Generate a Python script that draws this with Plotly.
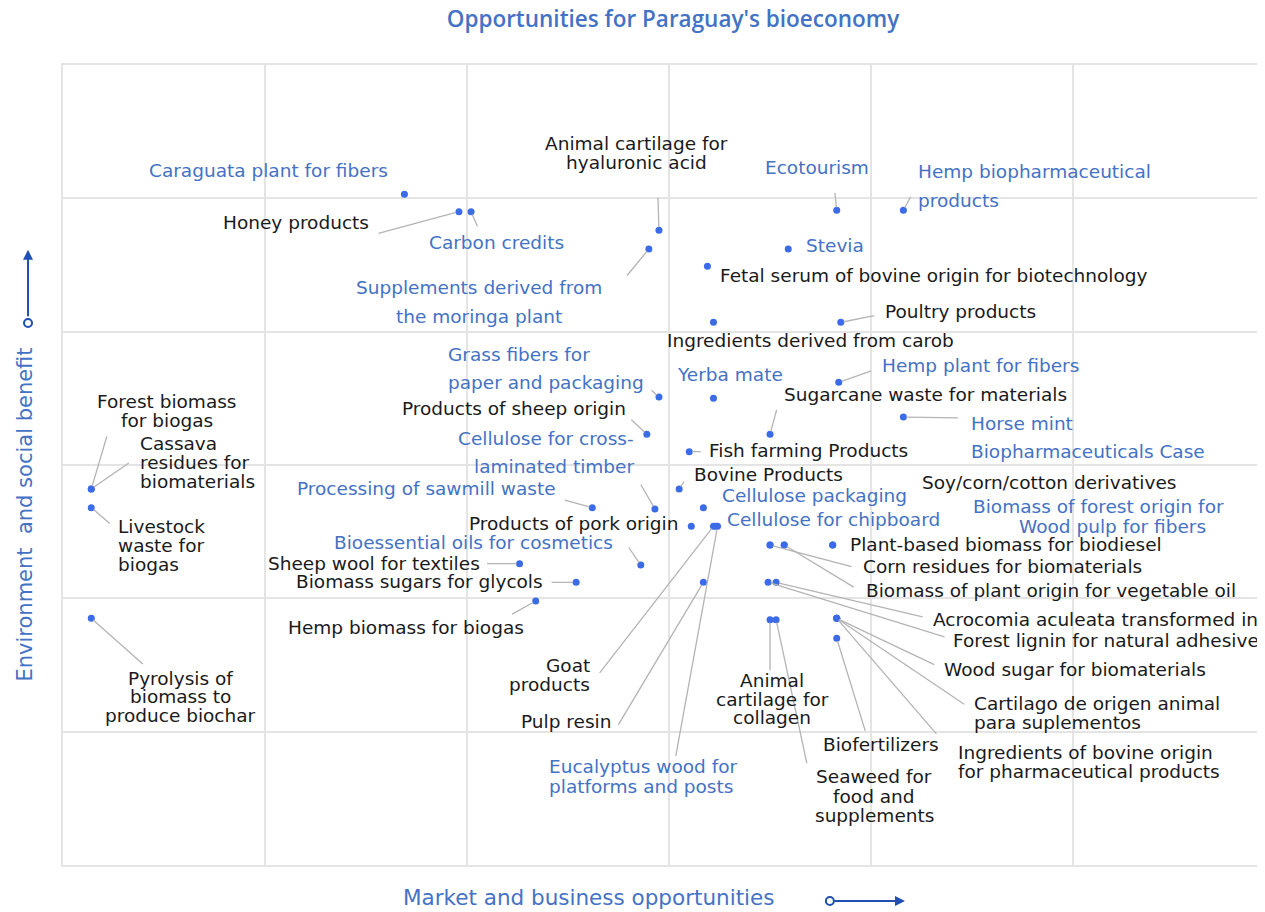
import plotly.graph_objects as go

# opportunity labels, market score (x) and environment/social score (y)
labels = [
    "Caraguata plant for fibers", "Honey products", "Carbon credits",
    "Supplements derived from<br>the moringa plant", "Animal cartilage for<br>hyaluronic acid",
    "Ecotourism", "Hemp biopharmaceutical<br>products", "Stevia",
    "Fetal serum of bovine origin for biotechnology", "Poultry products",
    "Ingredients derived from carob", "Hemp plant for fibers", "Yerba mate",
    "Sugarcane waste for materials", "Horse mint<br>Biopharmaceuticals Case",
    "Grass fibers for<br>paper and packaging", "Products of sheep origin",
    "Cellulose for cross-<br>laminated timber", "Fish farming Products", "Bovine Products",
    "Processing of sawmill waste", "Products of pork origin", "Cellulose packaging",
    "Cellulose for chipboard", "Bioessential oils for cosmetics", "Sheep wool for textiles",
    "Biomass sugars for glycols", "Hemp biomass for biogas", "Forest biomass<br>for biogas",
    "Cassava<br>residues for<br>biomaterials", "Livestock<br>waste for<br>biogas",
    "Pyrolysis of<br>biomass to<br>produce biochar", "Plant-based biomass for biodiesel",
    "Corn residues for biomaterials", "Biomass of plant origin for vegetable oil",
    "Soy/corn/cotton derivatives", "Biomass of forest origin for", "Wood pulp for fibers",
    "Acrocomia aculeata transformed in", "Forest lignin for natural adhesives",
    "Wood sugar for biomaterials", "Cartilago de origen animal<br>para suplementos",
    "Ingredients of bovine origin<br>for pharmaceutical products", "Biofertilizers",
    "Animal<br>cartilage for<br>collagen", "Seaweed for<br>food and<br>supplements",
    "Goat<br>products", "Pulp resin", "Eucalyptus wood for<br>platforms and posts",
]
market = [
    1.69, 1.96, 2.02, 2.90, 2.95, 3.83, 4.16, 3.59, 3.19, 3.85,
    3.22, 3.84, 3.22, 3.50, 4.16, 2.95, 2.89, 2.93, 3.10, 3.05,
    2.62, 3.11, 3.17, 3.23, 2.86, 2.26, 2.54, 2.34, 0.14, 0.14,
    0.14, 0.14, 3.81, 3.50, 3.57, 3.81, 3.50, 3.57, 3.53, 3.49,
    3.83, 3.83, 3.83, 3.83, 3.50, 3.53, 3.22, 3.17, 3.24,
]
benefit = [
    5.03, 4.90, 4.90, 4.62, 4.76, 4.91, 4.91, 4.62, 4.49, 4.07,
    4.07, 3.62, 3.50, 3.23, 3.36, 3.51, 3.23, 2.67, 3.10, 2.82,
    2.68, 2.54, 2.68, 2.54, 2.25, 2.26, 2.12, 1.98, 2.82, 2.82,
    2.68, 1.85, 2.40, 2.40, 2.40, 2.40, 2.40, 2.40, 2.12, 2.12,
    1.85, 1.85, 1.85, 1.70, 1.84, 1.84, 2.54, 2.12, 2.54,
]
highlighted = {
    "Caraguata plant for fibers", "Carbon credits", "Supplements derived from<br>the moringa plant",
    "Ecotourism", "Hemp biopharmaceutical<br>products", "Stevia", "Hemp plant for fibers",
    "Yerba mate", "Horse mint<br>Biopharmaceuticals Case", "Grass fibers for<br>paper and packaging",
    "Cellulose for cross-<br>laminated timber", "Processing of sawmill waste", "Cellulose packaging",
    "Cellulose for chipboard", "Bioessential oils for cosmetics", "Biomass of forest origin for",
    "Wood pulp for fibers", "Eucalyptus wood for<br>platforms and posts",
}

# label placement in pixels from each point: text dx, dy, anchor, line gap, leader tail
placement = [
    (-14, -24, "right", 0, None), (-88, 11, "right", 0, (-82, 22)), (25, 31, "center", 0, (7, 16)),
    (-170, 38, "center", 29, (-23, 28)), (-22, -87, "center", 19, (-1, -34)),
    (-20, -43, "center", 0, (-2, -19)), (13, -39, "left", 29, (8, -15)), (16, -4, "left", 0, None),
    (11, 9, "left", 0, None), (42, -11, "left", 0, (35, -7)),
    (-48, 18, "left", 0, None), (41, -17, "left", 0, (34, -12)), (17, -24, "center", 0, None),
    (12, -40, "left", 0, (7, -26)), (66, 6, "left", 28, (56, 1)),
    (-213, -43, "left", 28, (-9, -8)), (-19, -26, "right", 0, (-17, -16)),
    (-19, -71, "right", 28, (-15, -26)), (18, -1, "left", 0, (13, 0)), (13, -15, "left", 0, (6, -9)),
    (-34, -19, "right", 0, (-29, -8)), (-11, -3, "right", 0, None), (17, -12, "left", 0, None),
    (9, -7, "left", 0, None), (-26, -23, "right", 0, (-13, -19)), (-38, 0, "right", 0, (-34, 0)),
    (-31, -1, "right", 0, (-26, 0)), (-130, 26, "center", 0, (-25, 14)), (76, -88, "center", 19, (16, -54)),
    (47, -46, "left", 19, (39, -27)), (25, 19, "left", 19, (20, 17)),
    (89, 60, "center", 18.5, (53, 47)), (15, -1, "left", 0, None),
    (91, 21, "left", 0, (83, 22)), (80, 45, "left", 0, (71, 43)),
    (87, -63, "left", 0, None), (201, -39, "left", 0, None), (233, -19, "left", 0, None),
    (155, 37, "left", 0, (148, 35)), (183, 58, "left", 0, (178, 55)),
    (105, 51, "left", 0, (99, 47)), (135, 85, "left", 19, (129, 87)),
    (119, 134, "left", 19, (101, 117)), (-16, 106, "left", 0, (29, 94)),
    (2, 61, "center", 18.5, (0, 52)), (98, 157, "center", 19.5, (31, 145)),
    (-121, 139, "right", 19, (-115, 148)), (-90, 139, "right", 0, (-86, 144)),
    (-171, 240, "left", 20, (-42, 231)),
]

BLUE = "#4472c4"
DARK = "#1a1a1a"
FONT = "DejaVu Sans"

fig = go.Figure()
fig.add_trace(go.Scatter(
    x=market, y=benefit, mode="markers",
    marker=dict(size=7, color="#3b6be6"),
    hoverinfo="text", text=labels,
))

notes = []
# leaders first so the text sits on top
for name, mx, by, (dx, dy, anchor, gap, lead) in zip(labels, market, benefit, placement):
    if lead:
        notes.append(dict(x=mx, y=by, xref="x", yref="y", text="", showarrow=True,
                          ax=lead[0], ay=lead[1], arrowhead=0, arrowwidth=1.3,
                          arrowcolor="#b4b4b4", standoff=3))
for name, mx, by, (dx, dy, anchor, gap, lead) in zip(labels, market, benefit, placement):
    color = BLUE if name in highlighted else DARK
    for i, line in enumerate(name.split("<br>")):
        notes.append(dict(x=mx, y=by, xref="x", yref="y", text=line, showarrow=False,
                          xanchor=anchor, yanchor="middle",
                          xshift=dx, yshift=-(dy + i * gap),
                          font=dict(family=FONT, size=18.5, color=color)))

# axis titles and direction arrows
notes.append(dict(x=0.438, y=-0.041, xref="paper", yref="paper", showarrow=False,
                  xanchor="center", yanchor="middle",
                  text="Market and business opportunities",
                  font=dict(family=FONT, size=21.5, color=BLUE)))
notes.append(dict(x=-0.032, y=0.4375, xref="paper", yref="paper", showarrow=False,
                  xanchor="center", yanchor="middle",
                  text="Environment  and social benefit", textangle=-90,
                  font=dict(family=FONT, size=21, color=BLUE)))
notes.append(dict(x=0.7005, y=-0.045, xref="paper", yref="paper", text="", showarrow=True,
                  ax=-72, ay=0, arrowhead=2, arrowsize=1, arrowwidth=2, arrowcolor="#1f4fb0"))
notes.append(dict(x=-0.0291, y=0.769, xref="paper", yref="paper", text="", showarrow=True,
                  ax=0, ay=68, arrowhead=2, arrowsize=1, arrowwidth=2, arrowcolor="#1f4fb0"))

shapes = [
    dict(type="circle", xref="paper", yref="paper", xsizemode="pixel", ysizemode="pixel",
         xanchor=0.638, yanchor=-0.045, x0=-4, x1=4, y0=-4, y1=4,
         line=dict(color="#1f4fb0", width=2), fillcolor="white"),
    dict(type="circle", xref="paper", yref="paper", xsizemode="pixel", ysizemode="pixel",
         xanchor=-0.0291, yanchor=0.6775, x0=-4, x1=4, y0=-4, y1=4,
         line=dict(color="#1f4fb0", width=2), fillcolor="white"),
]

# page body adds an 8px margin, so the figure is 8px smaller on each side
fig.update_layout(
    width=1257, height=904,
    margin=dict(l=55, r=0, t=57, b=47),
    paper_bgcolor="white", plot_bgcolor="white",
    showlegend=False,
    title=dict(text="Opportunities for Paraguay's bioeconomy", x=0.529, xanchor="center",
               y=0.988, yanchor="middle",
               font=dict(family="Open Sans", size=22.5, color=BLUE, weight=600)),
    annotations=notes, shapes=shapes,
)
fig.update_xaxes(range=[0, 5.95], dtick=1, showticklabels=False, showgrid=True,
                 gridcolor="#e4e4e4", gridwidth=2, zeroline=False,
                 showline=True, mirror=True, linecolor="#e4e4e4", linewidth=2)
fig.update_yaxes(range=[0, 6], dtick=1, showticklabels=False, showgrid=True,
                 gridcolor="#e4e4e4", gridwidth=2, zeroline=False,
                 showline=True, linecolor="#e4e4e4", linewidth=2)

fig.write_html("out.html")
